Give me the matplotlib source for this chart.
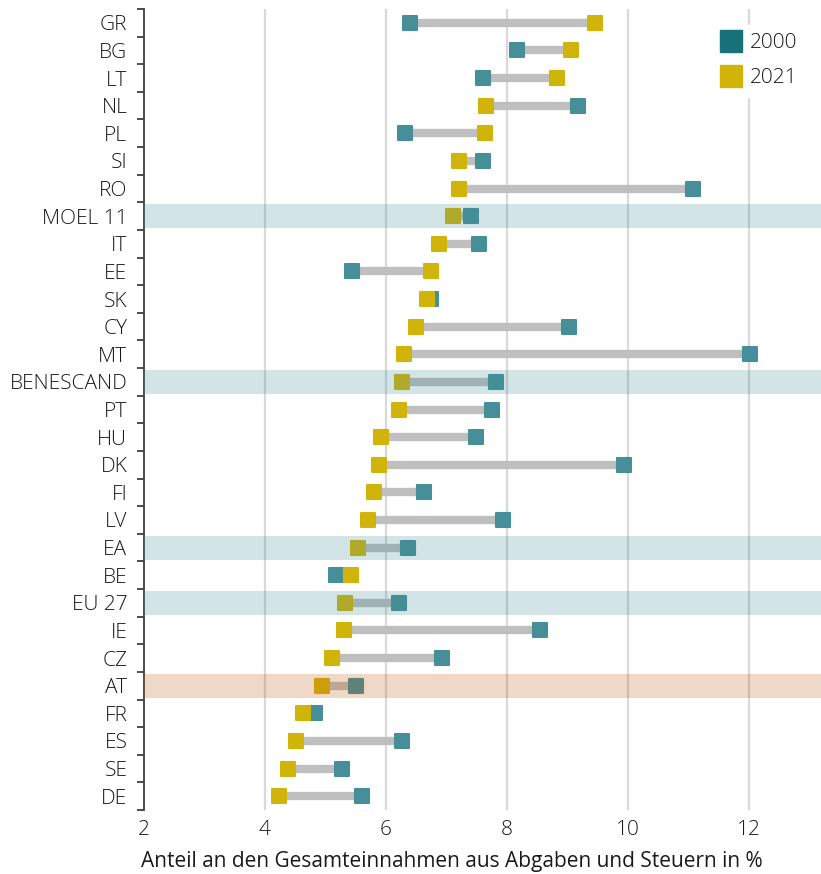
import matplotlib
matplotlib.use('Agg')
import matplotlib.pyplot as plt
from matplotlib.markers import MarkerStyle
from matplotlib.lines import Line2D

plt.rcParams['font.family'] = ['Open Sans', 'DejaVu Sans']
plt.rcParams['font.weight'] = 'light'

countries = ['GR', 'BG', 'LT', 'NL', 'PL', 'SI', 'RO', 'MOEL 11', 'IT', 'EE', 'SK', 'CY', 'MT',
             'BENESCAND', 'PT', 'HU', 'DK', 'FI', 'LV', 'EA', 'BE', 'EU 27', 'IE', 'CZ', 'AT',
             'FR', 'ES', 'SE', 'DE']
v2000 = [6.39, 8.16, 7.61, 9.18, 6.32, 7.61, 11.08, 7.41, 7.54, 5.43, 6.75, 9.03, 12.02,
         7.81, 7.76, 7.48, 9.94, 6.62, 7.94, 6.36, 5.17, 6.21, 8.55, 6.92, 5.50,
         4.82, 6.26, 5.28, 5.60]
v2021 = [9.46, 9.05, 8.83, 7.66, 7.64, 7.21, 7.20, 7.10, 6.87, 6.74, 6.67, 6.49, 6.30,
         6.27, 6.21, 5.91, 5.89, 5.80, 5.71, 5.53, 5.42, 5.33, 5.30, 5.10, 4.94,
         4.62, 4.52, 4.38, 4.23]
aggregates = ['MOEL 11', 'BENESCAND', 'EA', 'EU 27']
home = ['AT']
xticks = [2, 4, 6, 8, 10, 12]
xlabel = 'Anteil an den Gesamteinnahmen aus Abgaben und Steuern in %'
legend_labels = ['2000', '2021']

TEAL = '#468f99'
TEAL_DARK = '#17707a'
GOLD = '#d1b409'
GRAY = '#bfbfbf'
TXT = '#1a1a1a'
FS = 15

fig = plt.figure(figsize=(8.21, 8.74), dpi=100)
ax = fig.add_axes([0.1754, 0.0732, 0.8246, 0.9165])

ypos = list(range(len(countries)))
ms = MarkerStyle('s', joinstyle='round')

for y, a, b in zip(ypos, v2000, v2021):
    ax.plot([a, b], [y, y], color=GRAY, lw=6, solid_capstyle='butt', zorder=2)
ax.scatter(v2000, ypos, marker=ms, s=112, color=TEAL, edgecolor=TEAL, linewidth=1.5, zorder=3)
ax.scatter(v2021, ypos, marker=ms, s=112, color=GOLD, edgecolor=GOLD, linewidth=1.5, zorder=4)

for y, c in zip(ypos, countries):
    if c in aggregates:
        ax.axhspan(y - 0.435, y + 0.435, color='#418b98', alpha=0.23, lw=0, zorder=5)
    elif c in home:
        ax.axhspan(y - 0.435, y + 0.435, color='#bf5709', alpha=0.23, lw=0, zorder=5)

ax.set_xlim(2, 13.19)
ax.set_ylim(len(countries) - 0.5, -0.5)

ax.set_xticks(xticks)
ax.set_xticklabels([str(t) for t in xticks], fontsize=FS, color=TXT)
ax.tick_params(axis='x', length=0, pad=7)
for t in xticks[1:]:
    ax.axvline(t, color='#d9d9d9', lw=1.6, zorder=1)

ax.set_yticks([i - 0.5 for i in range(len(countries) + 1)])
ax.set_yticklabels([])
ax.set_yticks(ypos, minor=True)
ax.set_yticklabels(countries, minor=True, fontsize=FS, color=TXT)
ax.tick_params(axis='y', which='major', length=5, width=1.3, color='#404040', direction='out')
ax.tick_params(axis='y', which='minor', length=0, pad=12)

for s in ['top', 'right', 'bottom']:
    ax.spines[s].set_visible(False)
ax.spines['left'].set_color('#404040')
ax.spines['left'].set_linewidth(1.3)

ax.set_xlabel(xlabel, fontsize=FS, color=TXT)
ax.xaxis.set_label_coords(0.455, -0.064)
ax.xaxis.label.set_verticalalignment('center')

handles = [Line2D([], [], marker='s', linestyle='none', markersize=16, color=TEAL_DARK),
           Line2D([], [], marker='s', linestyle='none', markersize=16, color=GOLD)]
leg = ax.legend(handles, legend_labels, loc='upper right', bbox_to_anchor=(0.993, 0.993),
                frameon=True, framealpha=1, edgecolor='white', fontsize=FS,
                handlelength=1.0, handletextpad=0.4, labelspacing=0.72, borderpad=0.4)
for t in leg.get_texts():
    t.set_color(TXT)
leg.set_zorder(10)

fig.savefig('out.png', dpi=100)
